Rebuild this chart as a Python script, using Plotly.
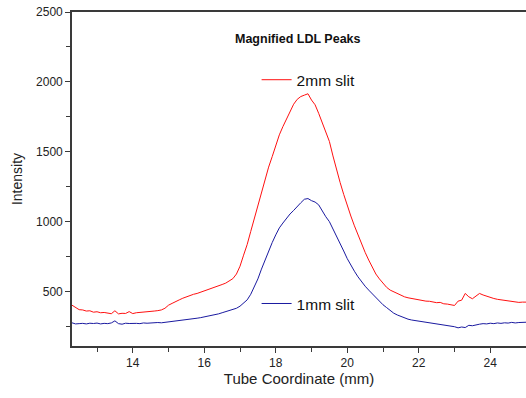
import plotly.graph_objects as go

x_start = 12.3
x_step = 0.1

red_2mm = [402, 385, 370, 368, 360, 362, 352, 355, 348, 350, 345, 341, 362, 340, 344, 343, 356, 342, 348, 350,
           349, 354, 356, 360, 363, 368, 380, 402, 415, 430, 440, 452, 462, 472, 480, 486, 495, 503, 510, 518,
           528, 538, 550, 560, 574, 592, 625, 681, 760, 836, 930, 1026, 1120, 1215, 1300, 1390, 1465, 1545, 1621, 1680,
           1735, 1788, 1840, 1875, 1895, 1905, 1915, 1870, 1836, 1775, 1710, 1645, 1574, 1470, 1365, 1280, 1195, 1110, 1040, 970,
           905, 836, 780, 725, 670, 625, 590, 560, 530, 510, 497, 485, 472, 462, 455, 450, 444, 440, 436, 431,
           430, 423, 420, 422, 412, 410, 405, 400, 431, 438, 486, 462, 448, 470, 486, 475, 465, 455, 450, 444,
           440, 434, 431, 425, 424, 422, 424, 424]

blue_1mm = [276, 268, 270, 272, 268, 273, 271, 274, 268, 272, 270, 275, 290, 270, 266, 273, 271, 274, 272, 270,
            275, 273, 276, 274, 278, 276, 279, 280, 284, 286, 289, 294, 298, 302, 306, 309, 313, 318, 322, 328,
            334, 340, 348, 355, 361, 368, 380, 395, 415, 440, 480, 530, 590, 660, 725, 790, 850, 905, 955, 990,
            1025, 1055, 1080, 1110, 1135, 1160, 1165, 1150, 1140, 1120, 1075, 1035, 1000, 950, 895, 845, 790, 735, 685, 645,
            605, 570, 538, 510, 482, 458, 430, 405, 385, 362, 345, 332, 320, 310, 302, 296, 292, 288, 284, 281,
            278, 272, 270, 266, 262, 258, 252, 248, 240, 246, 242, 258, 255, 262, 266, 270, 268, 273, 270, 275,
            272, 276, 274, 279, 275, 278, 281, 280]

x_vals = [round(x_start + x_step * i, 1) for i in range(len(red_2mm))]

FONT = "Arial, Liberation Sans, sans-serif"
AXIS_COLOR = "#3a3a3a"

fig = go.Figure()
fig.add_trace(go.Scatter(x=x_vals, y=red_2mm, mode="lines", name="2mm slit",
                         line=dict(color="#ff1010", width=1), legend="legend"))
fig.add_trace(go.Scatter(x=x_vals, y=blue_1mm, mode="lines", name="1mm slit",
                         line=dict(color="#1a1aa0", width=1), legend="legend2"))

axis_common = dict(showgrid=False, zeroline=False, showline=True, linecolor=AXIS_COLOR, linewidth=1.6,
                   ticks="outside", ticklen=5, tickwidth=1.3, tickcolor=AXIS_COLOR, automargin=False,
                   tickfont=dict(family=FONT, size=12, color="#222"))

fig.update_xaxes(range=[12.3, 25.0], tickmode="linear", tick0=0, dtick=2, mirror=True,
                 minor=dict(dtick=1, tick0=0, ticks="outside", ticklen=4, tickcolor=AXIS_COLOR, tickwidth=1.3),
                 title=dict(text="Tube Coordinate (mm)", font=dict(family=FONT, size=15, color="#222"), standoff=4),
                 **axis_common)
fig.update_yaxes(range=[110, 2500], tickmode="linear", tick0=0, dtick=500,
                 minor=dict(dtick=250, tick0=0, ticks="outside", ticklen=4, tickcolor=AXIS_COLOR, tickwidth=1.3),
                 title=dict(text="Intensity", font=dict(family=FONT, size=14, color="#222"), standoff=10),
                 **axis_common)

fig.update_layout(
    width=526, height=398,
    margin=dict(l=72, r=0, t=12, b=52, autoexpand=False),
    plot_bgcolor="white", paper_bgcolor="white",
    showlegend=True,
    legend=dict(x=0.4066, y=0.796, xanchor="left", yanchor="middle", bgcolor="rgba(0,0,0,0)",
                font=dict(family=FONT, size=15.5, color="#111"), itemwidth=30),
    legend2=dict(x=0.4066, y=0.126, xanchor="left", yanchor="middle", bgcolor="rgba(0,0,0,0)",
                 font=dict(family=FONT, size=15.5, color="#111"), itemwidth=30),
    annotations=[dict(text="<b>Magnified LDL Peaks</b>", xref="paper", yref="paper",
                      x=0.497, y=0.919, xanchor="center", yanchor="middle", showarrow=False,
                      font=dict(family=FONT, size=12.5, color="#111"))],
)

fig.write_html("out.html")
